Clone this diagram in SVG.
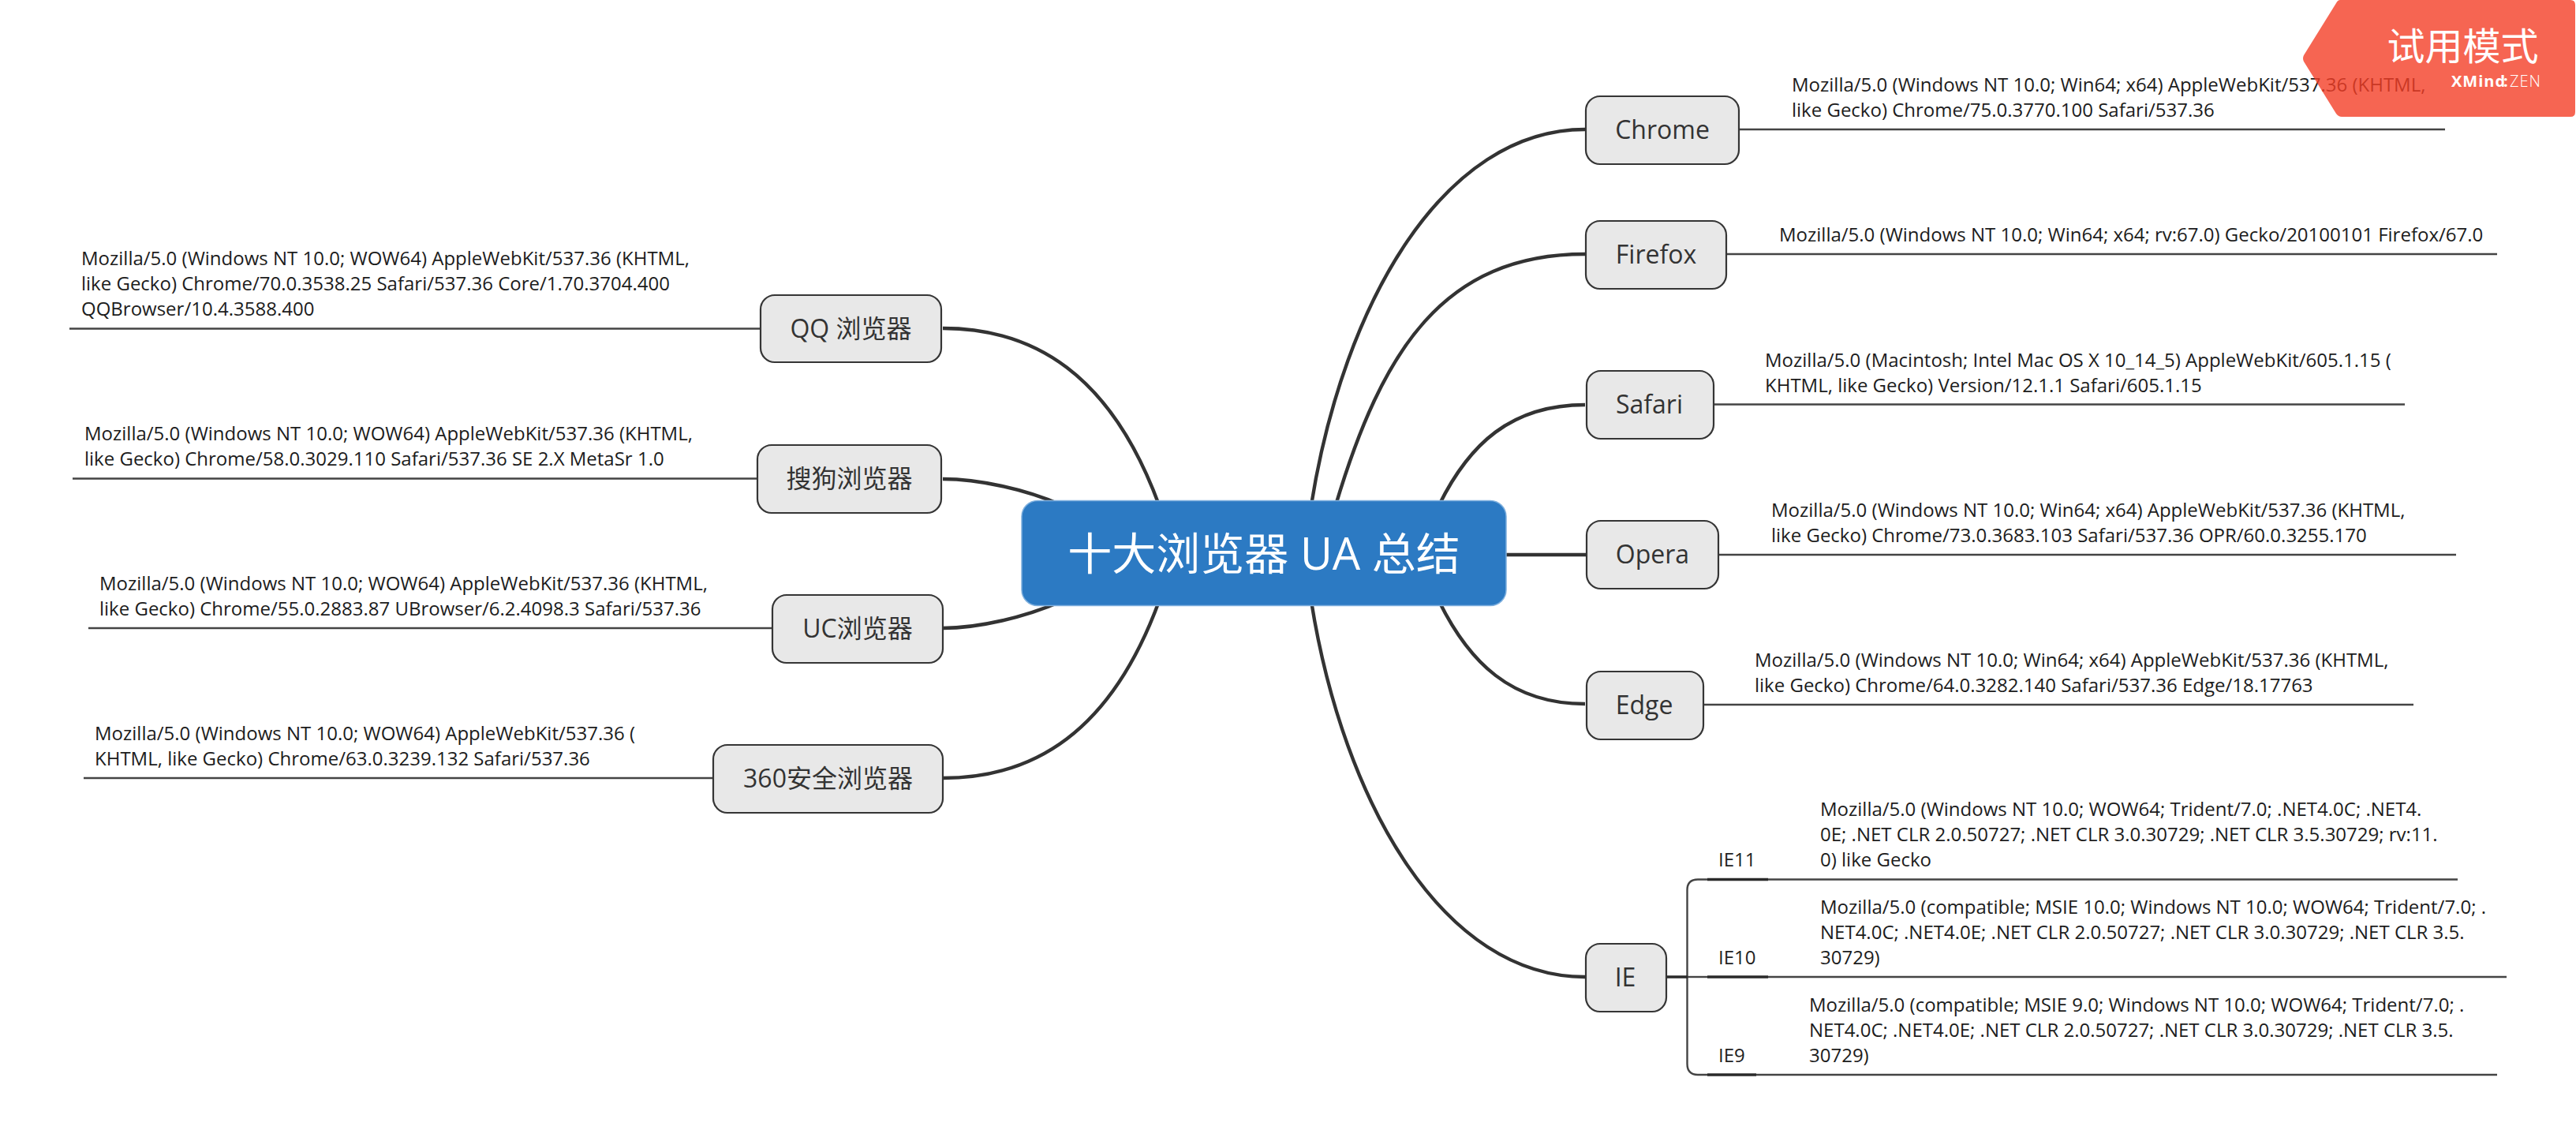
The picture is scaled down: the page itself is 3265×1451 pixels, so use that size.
<svg xmlns="http://www.w3.org/2000/svg" width="3265" height="1451" viewBox="0 0 3265 1451">
<style>
text{font-family:"Open Sans","Noto Sans CJK SC",sans-serif}
.n rect{fill:#e8e8e8;stroke:#353535;stroke-width:2.2}
.n text{font-size:32px;fill:#333;text-anchor:middle}
.ua{font-size:24px;fill:#1c1c1c}
.lab{font-size:24px;fill:#222}
.c{fill:none;stroke:#333;stroke-width:4.4}
.l{fill:none;stroke:#444;stroke-width:2.4}
.t{fill:none;stroke:#2a2a2a;stroke-width:3.6}
</style>
<g id="connectors">
<path class="c" d="M1662,640C1703,383 1830,164 2009,164"/>
<path class="c" d="M1693,640C1752,443 1830,322 2009,322"/>
<path class="c" d="M1824,640C1862,563 1915,513 2009,513"/>
<path class="c" d="M1905,703H2011"/>
<path class="c" d="M1824,762C1862,839 1915,892 2009,892"/>
<path class="c" d="M1662,762C1703,1019 1830,1238 2009,1238"/>
<path class="c" d="M1469,640C1408,474 1310,416 1195,416"/>
<path class="c" d="M1345,640C1300,620 1240,607 1195,607"/>
<path class="c" d="M1345,762C1300,782 1240,796 1195,796"/>
<path class="c" d="M1469,762C1408,928 1310,986 1195,986"/>
<path class="l" d="M2204,164H3099M2188,322H3165M2172,512.500H3048M2178,703H3113M2159,893H3059"/>
<path class="l" d="M964,416.500H88M960,606.500H92M979,796H112M904,986H106"/>
<path class="l" d="M2164,1114.500H2152Q2138.500,1114.500 2138.500,1128V1348Q2138.500,1362 2152,1362H2164"/>
<path class="l" d="M2241,1114.500H3115M2241,1238H3177M2226,1362H3165"/>
<path class="t" d="M2112,1238H2139M2164,1114.500H2241M2164,1238H2241M2164,1362H2226"/>
<path class="l" d="M2139,1238H2164"/>
</g>
<g id="root"><rect x="1295" y="634.500" width="614" height="133" rx="20" fill="#2c7ac3" stroke="#7fb0de" stroke-width="1.500"/>
<text x="1602" y="722" font-size="56" fill="#fff" text-anchor="middle">十大浏览器 UA 总结</text></g>
<g id="chrome" class="n"><rect x="2010" y="122" width="194" height="86" rx="18"/><text x="2107" y="176">Chrome</text></g>
<text class="ua" x="2271" y="116">Mozilla/5.0 (Windows NT 10.0; Win64; x64) AppleWebKit/537.36 (KHTML,</text>
<text class="ua" x="2271" y="148">like Gecko) Chrome/75.0.3770.100 Safari/537.36</text>
<g id="firefox" class="n"><rect x="2010" y="280" width="178" height="86" rx="18"/><text x="2099" y="334">Firefox</text></g>
<text class="ua" x="2255" y="306">Mozilla/5.0 (Windows NT 10.0; Win64; x64; rv:67.0) Gecko/20100101 Firefox/67.0</text>
<g id="safari" class="n"><rect x="2011" y="470" width="161" height="86" rx="18"/><text x="2090.500" y="524">Safari</text></g>
<text class="ua" x="2237" y="465">Mozilla/5.0 (Macintosh; Intel Mac OS X 10_14_5) AppleWebKit/605.1.15 (</text>
<text class="ua" x="2237" y="497">KHTML, like Gecko) Version/12.1.1 Safari/605.1.15</text>
<g id="opera" class="n"><rect x="2011" y="660" width="167" height="86" rx="18"/><text x="2094.500" y="714">Opera</text></g>
<text class="ua" x="2245" y="655">Mozilla/5.0 (Windows NT 10.0; Win64; x64) AppleWebKit/537.36 (KHTML,</text>
<text class="ua" x="2245" y="687">like Gecko) Chrome/73.0.3683.103 Safari/537.36 OPR/60.0.3255.170</text>
<g id="edge" class="n"><rect x="2011" y="851" width="148" height="86" rx="18"/><text x="2084" y="905">Edge</text></g>
<text class="ua" x="2224" y="845">Mozilla/5.0 (Windows NT 10.0; Win64; x64) AppleWebKit/537.36 (KHTML,</text>
<text class="ua" x="2224" y="877">like Gecko) Chrome/64.0.3282.140 Safari/537.36 Edge/18.17763</text>
<g id="ie" class="n"><rect x="2010" y="1196" width="102" height="86" rx="18"/><text x="2060" y="1250">IE</text></g>
<g id="ie11"><text class="lab" x="2178" y="1098">IE11</text>
<text class="ua" x="2307" y="1034">Mozilla/5.0 (Windows NT 10.0; WOW64; Trident/7.0; .NET4.0C; .NET4.</text>
<text class="ua" x="2307" y="1066">0E; .NET CLR 2.0.50727; .NET CLR 3.0.30729; .NET CLR 3.5.30729; rv:11.</text>
<text class="ua" x="2307" y="1098">0) like Gecko</text></g>
<g id="ie10"><text class="lab" x="2178" y="1222">IE10</text>
<text class="ua" x="2307" y="1158">Mozilla/5.0 (compatible; MSIE 10.0; Windows NT 10.0; WOW64; Trident/7.0; .</text>
<text class="ua" x="2307" y="1190">NET4.0C; .NET4.0E; .NET CLR 2.0.50727; .NET CLR 3.0.30729; .NET CLR 3.5.</text>
<text class="ua" x="2307" y="1222">30729)</text></g>
<g id="ie9"><text class="lab" x="2178" y="1346">IE9</text>
<text class="ua" x="2293" y="1282">Mozilla/5.0 (compatible; MSIE 9.0; Windows NT 10.0; WOW64; Trident/7.0; .</text>
<text class="ua" x="2293" y="1314">NET4.0C; .NET4.0E; .NET CLR 2.0.50727; .NET CLR 3.0.30729; .NET CLR 3.5.</text>
<text class="ua" x="2293" y="1346">30729)</text></g>
<g id="qq" class="n"><rect x="964" y="374" width="229" height="85" rx="18"/><text x="1078.500" y="428">QQ 浏览器</text></g>
<text class="ua" x="103" y="336">Mozilla/5.0 (Windows NT 10.0; WOW64) AppleWebKit/537.36 (KHTML,</text>
<text class="ua" x="103" y="368">like Gecko) Chrome/70.0.3538.25 Safari/537.36 Core/1.70.3704.400</text>
<text class="ua" x="103" y="400">QQBrowser/10.4.3588.400</text>
<g id="sogou" class="n"><rect x="960" y="564" width="233" height="86" rx="18"/><text x="1076.500" y="618">搜狗浏览器</text></g>
<text class="ua" x="107" y="558">Mozilla/5.0 (Windows NT 10.0; WOW64) AppleWebKit/537.36 (KHTML,</text>
<text class="ua" x="107" y="590">like Gecko) Chrome/58.0.3029.110 Safari/537.36 SE 2.X MetaSr 1.0</text>
<g id="uc" class="n"><rect x="979" y="754" width="216" height="86" rx="18"/><text x="1087" y="808">UC浏览器</text></g>
<text class="ua" x="126" y="748">Mozilla/5.0 (Windows NT 10.0; WOW64) AppleWebKit/537.36 (KHTML,</text>
<text class="ua" x="126" y="780">like Gecko) Chrome/55.0.2883.87 UBrowser/6.2.4098.3 Safari/537.36</text>
<g id="b360" class="n"><rect x="904" y="944" width="291" height="86" rx="18"/><text x="1049.500" y="998">360安全浏览器</text></g>
<text class="ua" x="120" y="938">Mozilla/5.0 (Windows NT 10.0; WOW64) AppleWebKit/537.36 (</text>
<text class="ua" x="120" y="970">KHTML, like Gecko) Chrome/63.0.3239.132 Safari/537.36</text>
<g id="watermark">
<path d="M2966,0H3258Q3264,0 3264,6V142Q3264,148 3258,148H2968Q2964,148 2961,144L2920,78Q2918,74 2920,70L2961,4Q2963,0 2966,0Z" fill="#f43e27" fill-opacity=".8"/>
<text x="3121.500" y="76" font-size="48" fill="#fff" text-anchor="middle">试用模式</text>
<text y="110" font-size="20" fill="#fff" font-weight="700" letter-spacing="1"><tspan x="3107">XMind</tspan><tspan x="3173">:</tspan><tspan x="3181" font-weight="300">ZEN</tspan></text>
</g>
</svg>
